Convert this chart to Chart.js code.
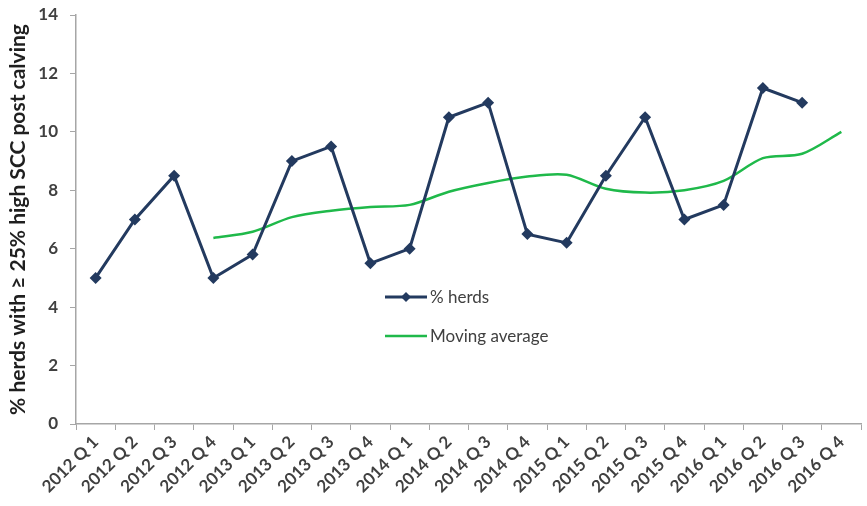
<!DOCTYPE html>
<html>
<head>
<meta charset="utf-8">
<script src="https://cdn.jsdelivr.net/npm/chart.js@4/dist/chart.umd.min.js"></script>
<style>
  html, body { margin: 0; padding: 0; background: #fff; }
  #wrap { width: 867px; height: 506px; }
</style>
</head>
<body>
<div id="wrap"><canvas id="graph" width="867" height="506"></canvas></div>
<script>
var quarters = ['2012 Q 1', '2012 Q 2', '2012 Q 3', '2012 Q 4',
                '2013 Q 1', '2013 Q 2', '2013 Q 3', '2013 Q 4',
                '2014 Q 1', '2014 Q 2', '2014 Q 3', '2014 Q 4',
                '2015 Q 1', '2015 Q 2', '2015 Q 3', '2015 Q 4',
                '2016 Q 1', '2016 Q 2', '2016 Q 3', '2016 Q 4'];
var herds = [5, 7, 8.5, 5, 5.8, 9, 9.5, 5.5, 6, 10.5, 11, 6.5,
             6.2, 8.5, 10.5, 7, 7.5, 11.5, 11, null];
var movingAvg = [null, null, null, 6.37, 6.58, 7.08, 7.3, 7.43, 7.5, 7.95, 8.25, 8.47,
                 8.53, 8.05, 7.92, 8.0, 8.32, 9.1, 9.25, 10.0];
var yTicks = [0, 2, 4, 6, 8, 10, 12, 14];

var navy = '#233a5f';
var green = '#1fb94a';
var axisGrey = '#a6a6a6';
var textGrey = '#404040';

// legend sits inside the plot, like the spreadsheet original
var insideLegend = {
    id: 'insideLegend',
    afterDraw: function(chart){
        var ctx = chart.ctx;
        var area = chart.chartArea;
        var x = area.left + 309;
        var y = area.top + 282;
        ctx.save();
        ctx.font = '17px Lato';
        ctx.textBaseline = 'middle';
        chart.data.datasets.forEach(function(ds, i){
            var yy = y + i * 39;
            ctx.strokeStyle = ds.borderColor;
            ctx.lineWidth = ds.borderWidth;
            ctx.beginPath();
            ctx.moveTo(x, yy);
            ctx.lineTo(x + 42, yy);
            ctx.stroke();
            if(ds.pointRadius > 0){
                ctx.fillStyle = ds.borderColor;
                ctx.beginPath();
                ctx.moveTo(x + 21, yy - 5);
                ctx.lineTo(x + 26, yy);
                ctx.lineTo(x + 21, yy + 5);
                ctx.lineTo(x + 16, yy);
                ctx.closePath();
                ctx.fill();
            }
            ctx.fillStyle = textGrey;
            ctx.fillText(ds.label, x + 45, yy + 1);
        });
        ctx.restore();
    }
};

new Chart(document.getElementById('graph'), {
    type: 'line',
    data: {
        labels: quarters,
        datasets: [{
            label: '% herds',
            data: herds,
            borderColor: navy,
            backgroundColor: navy,
            borderWidth: 3,
            pointStyle: 'rectRot',
            pointRadius: 6,
            pointBorderWidth: 0,
            tension: 0
        }, {
            label: 'Moving average',
            data: movingAvg,
            borderColor: green,
            backgroundColor: green,
            borderWidth: 2.5,
            pointRadius: 0,
            tension: 0.3
        }]
    },
    options: {
        responsive: false,
        animation: false,
        layout: { padding: { left: 0, right: 4, top: 15, bottom: 0 } },
        plugins: {
            legend: { display: false },
            tooltip: { enabled: false }
        },
        scales: {
            x: {
                offset: true,
                afterFit: function(axis){
                    axis.height = 82;
                    axis.paddingLeft = 0;
                    axis.paddingRight = 0;
                },
                grid: {
                    offset: true,
                    drawOnChartArea: false,
                    color: axisGrey,
                    tickLength: 6
                },
                border: { color: axisGrey, width: 1.5 },
                ticks: {
                    minRotation: 45,
                    maxRotation: 45,
                    autoSkip: false,
                    padding: 2,
                    color: textGrey,
                    font: { family: 'Lato', size: 17, weight: 'bold' }
                }
            },
            y: {
                min: 0,
                max: 14,
                afterFit: function(axis){
                    axis.width = 76;
                    axis.paddingTop = 0;
                    axis.paddingBottom = 0;
                },
                afterBuildTicks: function(axis){
                    axis.ticks = yTicks.map(function(v){ return { value: v }; });
                },
                grid: {
                    drawOnChartArea: false,
                    color: axisGrey,
                    tickLength: 6
                },
                border: { color: axisGrey, width: 1.5 },
                ticks: {
                    color: textGrey,
                    padding: 12,
                    font: { family: 'Lato', size: 17, weight: 'bold' }
                },
                title: {
                    display: true,
                    text: '% herds with \u2265 25% high SCC post calving',
                    color: '#1f1f1f',
                    padding: { top: 6, bottom: 0 },
                    font: { family: 'Lato', size: 21, weight: 'bold' }
                }
            }
        }
    },
    plugins: [insideLegend]
});
</script>
</body>
</html>
